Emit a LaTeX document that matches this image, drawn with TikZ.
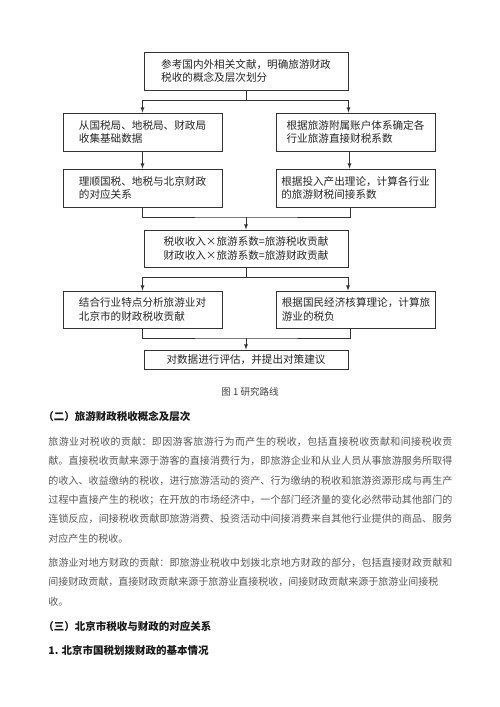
\documentclass[tikz,border=0pt]{standalone}
\usepackage{fontspec}
\setmainfont{Noto Sans CJK SC}
\usetikzlibrary{calc,positioning}
\XeTeXlinebreaklocale "zh"
\XeTeXlinebreakskip=0pt plus 1pt
\setlength{\parindent}{0pt}
\tikzstyle{route}=[
  x=1pt,y=-1pt,>=latex,line width=0.8pt,color=black!80
]
\tikzstyle{stage}=[
  draw=black!80,line width=0.8pt,align=left,inner sep=0pt,text=black!85,
  font=\fontsize{10.6}{13.5}\selectfont
]
\tikzstyle{widestage}=[
  stage,minimum width=204pt
]
\tikzstyle{sidestage}=[
  stage,minimum width=159pt,minimum height=38pt
]
\tikzstyle{bodytext}=[
  anchor=north west,inner sep=0pt,text width=404pt,align=justify,text=black!65,
  font=\fontsize{10}{19.4}\selectfont
]
\tikzstyle{headtext}=[
  anchor=west,inner sep=0pt,text=black!90,font=\fontsize{10.5}{12}\selectfont\bfseries
]

\begin{document}
\begin{tikzpicture}[route]
    \fill[white] (0,0) rectangle (500,707);
    % flow chart
    \node (survey) at (246,71) [widestage,minimum height=38pt] {参考国内外相关文献，明确旅游财政\\税收的概念及层次划分};
    \node (collect) at (142.5,132) [sidestage] {从国税局、地税局、财政局\\收集基础数据};
    \node (direct) at (355.5,132) [sidestage] {根据旅游附属账户体系确定各\\行业旅游直接财税系数};
    \node (match) at (142.5,188) [sidestage] {理顺国税、地税与北京财政\\的对应关系};
    \node (indirect) at (355.5,188) [sidestage] {根据投入产出理论，计算各行业\\的旅游财税间接系数};
    \node (formula) at (246,248.5) [widestage,minimum height=37pt] {税收收入×旅游系数=旅游税收贡献\\财政收入×旅游系数=旅游财政贡献};
    \node (contrib) at (142.5,309.5) [sidestage,minimum height=37pt] {结合行业特点分析旅游业对\\北京市的财政税收贡献};
    \node (burden) at (356,309.5) [sidestage,minimum height=37pt] {根据国民经济核算理论，计算旅\\游业的税负};
    \node (advice) at (246,359.5) [widestage,minimum height=19pt] {对数据进行评估，并提出对策建议};
    \coordinate (split1) at (246,100);
    \coordinate (join1) at (246,217);
    \coordinate (split2) at (246,277);
    \coordinate (join2) at (246,338);
    \draw (survey) -- (split1);
    \draw [->] (split1) -| (collect);
    \draw [->] (split1) -| ($(direct.north)+(-7,0)$);
    \draw [->] (collect) -- (match);
    \draw [->] ($(direct.south)+(-6,0)$) -- ($(indirect.north)+(-6,0)$);
    \draw (match) |- (join1) -| ($(indirect.south)+(-5,0)$);
    \draw [->] (join1) -- (formula);
    \draw (formula) -- (split2);
    \draw [->] (split2) -| (contrib);
    \draw [->] (split2) -| ($(burden.north)+(-8,0)$);
    \draw (contrib) |- (join2) -| ($(burden.south)+(-6,0)$);
    \draw [->] (join2) -- (advice);
    % text below
    \node (caption) at (250,392) [text=black!75,font=\fontsize{9.5}{11}\selectfont] {图 1\ 研究路线};
    \node (sec2) at (43,416) [headtext] {（二）旅游财政税收概念及层次};
    \node (para1) at (48,436.5) [bodytext] {旅游业对税收的贡献：即因游客旅游行为而产生的税收，包括直接税收贡献和间接税收贡\linebreak
献。直接税收贡献来源于游客的直接消费行为，即旅游企业和从业人员从事旅游服务所取得\linebreak
的收入、收益缴纳的税收，进行旅游活动的资产、行为缴纳的税收和旅游资源形成与再生产\linebreak
过程中直接产生的税收；在开放的市场经济中，一个部门经济量的变化必然带动其他部门的\linebreak
连锁反应，间接税收贡献即旅游消费、投资活动中间接消费来自其他行业提供的商品、服务\linebreak
对应产生的税收。};
    \node (para2) at (48,557.5) [bodytext] {旅游业对地方财政的贡献：即旅游业税收中划拨北京地方财政的部分，包括直接财政贡献和\linebreak
间接财政贡献，直接财政贡献来源于旅游业直接税收，间接财政贡献来源于旅游业间接税\\
收。};
    \node (sec3) at (43,626) [headtext] {（三）北京市税收与财政的对应关系};
    \node (sec31) at (48,650) [headtext] {1. 北京市国税划拨财政的基本情况};
\end{tikzpicture}
\end{document}
